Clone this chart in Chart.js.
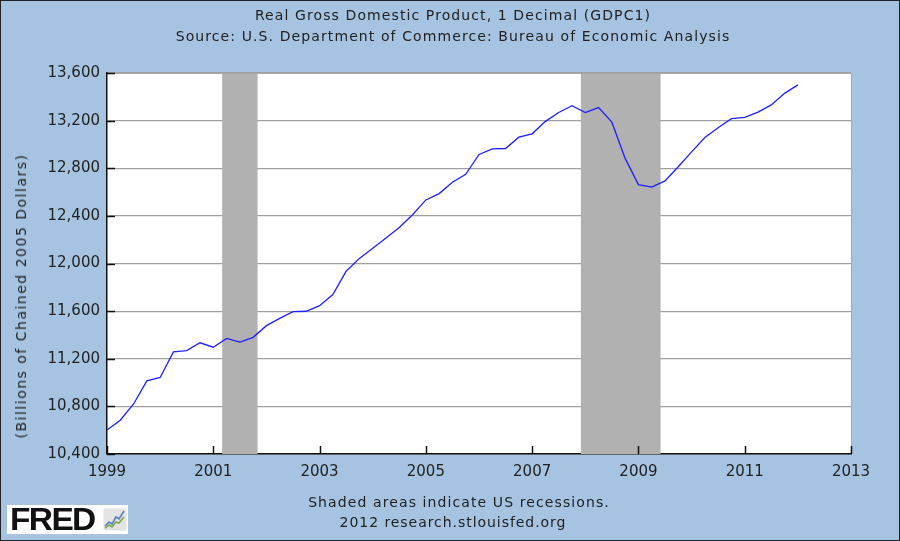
<!DOCTYPE html>
<html>
<head>
<meta charset="utf-8">
<script src="https://cdn.jsdelivr.net/npm/chart.js@4.4.1/dist/chart.umd.min.js"></script>
<style>
  html, body { margin: 0; padding: 0; }
  body { width: 900px; height: 541px; position: relative; overflow: hidden; background: #a6c3e2; font-family: "DejaVu Sans", Verdana, sans-serif; color: #222; }
  #frame { position: absolute; left: 0; top: 0; width: 898px; height: 539px; border: 1px solid #222; }
  canvas { position: absolute; left: 0; top: 0; }
  .txt { position: absolute; white-space: nowrap; font-size: 14px; line-height: 16px; letter-spacing: 1.1px; transform: translateX(-50%); }
  #ytitle { position: absolute; left: 21px; top: 296px; white-space: nowrap; font-size: 14px; line-height: 16px; letter-spacing: 1.5px; transform: translate(-50%, -50%) rotate(-90deg); }
  #logo { position: absolute; left: 7px; top: 505px; width: 121px; height: 29px; background: #fff; }
  #logo span { position: absolute; left: 3px; top: -3px; font-family: "Liberation Sans", Arial, sans-serif; font-weight: bold; font-size: 31px; letter-spacing: -1.5px; color: #111; transform-origin: left top; transform: scaleX(1.08); }
  #logo svg { position: absolute; left: 96px; top: 3px; }
</style>
</head>
<body>
<div id="frame"></div>
<canvas id="chart" width="900" height="541"></canvas>
<div class="txt" style="left:453px; top:7px;">Real Gross Domestic Product, 1 Decimal (GDPC1)</div>
<div class="txt" style="left:453px; top:28px;">Source: U.S. Department of Commerce: Bureau of Economic Analysis</div>
<div id="ytitle">(Billions of Chained 2005 Dollars)</div>
<div class="txt" style="left:459px; top:494px;">Shaded areas indicate US recessions.</div>
<div class="txt" style="left:453px; top:514px; letter-spacing: 0.95px;">2012 research.stlouisfed.org</div>
<div id="logo"><span>FRED</span>
  <svg width="24" height="23" viewBox="0 0 24 23">
    <rect x="0.5" y="0.5" width="23" height="22" rx="2" fill="#e4e4e4"/>
    <polyline points="2,18 6,14 9,16 13,9 16,11 21,3" fill="none" stroke="#5a7fc0" stroke-width="1.6"/>
    <polyline points="2,20 6,17 9,19 13,14 16,15 21,9" fill="none" stroke="#7aa84a" stroke-width="1.6"/>
  </svg>
</div>
<script>
// quarterly observations (first day of quarter)
const quarters = [
  '1999-01', '1999-04', '1999-07', '1999-10',
  '2000-01', '2000-04', '2000-07', '2000-10',
  '2001-01', '2001-04', '2001-07', '2001-10',
  '2002-01', '2002-04', '2002-07', '2002-10',
  '2003-01', '2003-04', '2003-07', '2003-10',
  '2004-01', '2004-04', '2004-07', '2004-10',
  '2005-01', '2005-04', '2005-07', '2005-10',
  '2006-01', '2006-04', '2006-07', '2006-10',
  '2007-01', '2007-04', '2007-07', '2007-10',
  '2008-01', '2008-04', '2008-07', '2008-10',
  '2009-01', '2009-04', '2009-07', '2009-10',
  '2010-01', '2010-04', '2010-07', '2010-10',
  '2011-01', '2011-04', '2011-07', '2011-10',
  '2012-01'
];
// GDPC1, billions of chained 2005 dollars
const gdp = [
  10601, 10684, 10820, 11014,
  11043, 11258, 11268, 11334,
  11297, 11371, 11340, 11380,
  11478, 11539, 11596, 11599,
  11646, 11739, 11935, 12043,
  12128, 12214, 12303, 12410,
  12534, 12587, 12683, 12749,
  12916, 12962, 12966, 13061,
  13089, 13194, 13268, 13326,
  13267, 13310, 13187, 12883,
  12663, 12641, 12694, 12813,
  12938, 13058, 13140, 13216,
  13228, 13272, 13332, 13429,
  13500
];
// NBER recessions (monthly start / end)
const recessionStart = ['2001-03', '2007-12'];
const recessionEnd = ['2001-11', '2009-06'];

const xTicks = [1999, 2001, 2003, 2005, 2007, 2009, 2011, 2013];
const yTicks = [10400, 10800, 11200, 11600, 12000, 12400, 12800, 13200, 13600];

function toYear(s) {
    const parts = s.split('-');
    return Number(parts[0]) + (Number(parts[1]) - 1) / 12;
}

const points = quarters.map(function(q, i) {
    return { x: toYear(q), y: gdp[i] };
});

const tickFont = { family: 'DejaVu Sans', size: 15 };

const recessionShading = {
    id: 'recessionShading',
    beforeDatasetsDraw(chart) {
        const ctx = chart.ctx;
        const area = chart.chartArea;
        const x = chart.scales.x;
        ctx.save();
        ctx.fillStyle = '#b1b1b1';
        recessionStart.forEach(function(s, i) {
            const x0 = x.getPixelForValue(toYear(s));
            const x1 = x.getPixelForValue(toYear(recessionEnd[i]));
            ctx.fillRect(x0, area.top, x1 - x0, area.bottom - area.top);
        });
        ctx.restore();
    }
};

const innerTicks = {
    id: 'innerTicks',
    afterDraw(chart) {
        const ctx = chart.ctx;
        const area = chart.chartArea;
        ctx.save();
        // light frame on top and right
        ctx.strokeStyle = '#a8a8a8';
        ctx.lineWidth = 1;
        ctx.beginPath();
        ctx.moveTo(area.left, area.top + 0.5);
        ctx.lineTo(area.right + 0.5, area.top + 0.5);
        ctx.lineTo(area.right + 0.5, area.bottom);
        ctx.stroke();
        // ticks pointing into the plot
        ctx.strokeStyle = '#111';
        ctx.lineWidth = 1.5;
        ctx.beginPath();
        chart.scales.x.ticks.forEach(function(t) {
            const px = Math.round(chart.scales.x.getPixelForValue(t.value)) + 0.5;
            ctx.moveTo(px, area.bottom);
            ctx.lineTo(px, area.bottom - 8);
        });
        chart.scales.y.ticks.forEach(function(t) {
            const py = Math.round(chart.scales.y.getPixelForValue(t.value)) + 0.5;
            ctx.moveTo(area.left, py);
            ctx.lineTo(area.left + 8, py);
        });
        ctx.stroke();
        ctx.restore();
    }
};

const whiteArea = {
    id: 'whiteArea',
    beforeDraw(chart) {
        const a = chart.chartArea;
        chart.ctx.save();
        chart.ctx.fillStyle = '#ffffff';
        chart.ctx.fillRect(a.left, a.top, a.right - a.left, a.bottom - a.top);
        chart.ctx.restore();
    }
};

new Chart(document.getElementById('chart'), {
    type: 'line',
    data: {
        datasets: [{
            data: points,
            borderColor: '#1f1fff',
            borderWidth: 1.3,
            pointRadius: 0,
            tension: 0,
            fill: false
        }]
    },
    options: {
        responsive: false,
        animation: false,
        layout: { padding: { left: 0, top: 73, right: 49, bottom: 0 } },
        plugins: {
            legend: { display: false },
            tooltip: { enabled: false }
        },
        scales: {
            x: {
                type: 'linear',
                min: 1999,
                max: 2013,
                afterBuildTicks: function(scale) {
                    scale.ticks = xTicks.map(v => ({ value: v }));
                },
                afterFit: function(scale) { scale.height = 87; },
                ticks: {
                    font: tickFont,
                    color: '#222',
                    padding: 9,
                    maxRotation: 0,
                    callback: v => String(v)
                },
                grid: { display: false, drawTicks: false },
                border: { display: true, color: '#111', width: 1.5 }
            },
            y: {
                min: 10400,
                max: 13600,
                afterBuildTicks: function(scale) {
                    scale.ticks = yTicks.map(v => ({ value: v }));
                },
                afterFit: function(scale) { scale.width = 107; },
                ticks: {
                    font: tickFont,
                    color: '#222',
                    padding: 7,
                    callback: v => v.toLocaleString('en-US')
                },
                grid: { color: '#a0a0a0', lineWidth: 1.2, drawTicks: false },
                border: { display: true, color: '#111', width: 1.5 }
            }
        }
    },
    plugins: [whiteArea, recessionShading, innerTicks]
});
</script>
</body>
</html>
